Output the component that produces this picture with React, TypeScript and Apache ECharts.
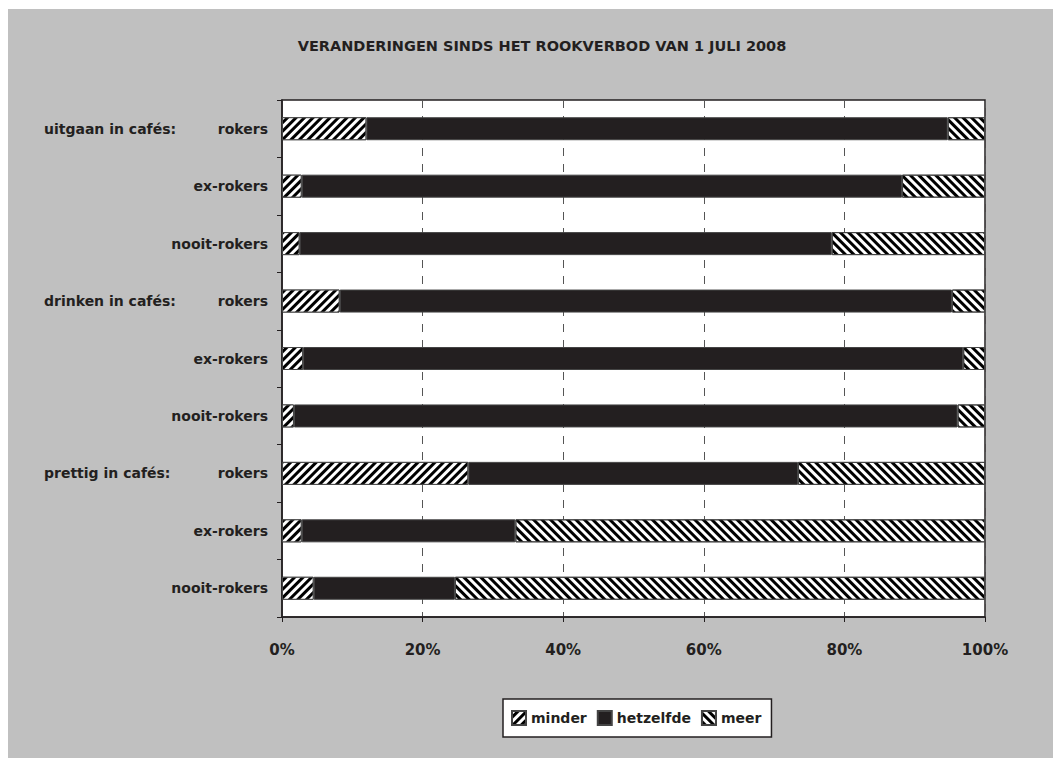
import React, { useEffect, useRef } from "react";
import * as echarts from "echarts";

const categories = [
  "uitgaan in cafés:|rokers",
  "|ex-rokers",
  "|nooit-rokers",
  "drinken in cafés:|rokers",
  "|ex-rokers",
  "|nooit-rokers",
  "prettig in cafés:|rokers",
  "|ex-rokers",
  "|nooit-rokers",
];
const minder = [12.0, 2.8, 2.5, 8.2, 3.0, 1.7, 26.5, 2.8, 4.5];
const hetzelfde = [82.7, 85.4, 75.7, 87.1, 93.9, 94.4, 46.9, 30.4, 20.1];
const meer = [5.3, 11.8, 21.8, 4.7, 3.1, 3.9, 26.6, 66.8, 75.4];
const xTicks = [0, 20, 40, 60, 80, 100];

const FONT = "'DejaVu Sans', sans-serif";
const INK = "#231f20";

export default function App() {
  const ref = useRef<HTMLDivElement>(null);
  useEffect(() => {
    const chart = echarts.init(ref.current!, undefined, { renderer: "svg" });
    const stripe = (color: string, rot: number) => ({
      symbol: "rect",
      symbolSize: 1,
      color,
      dashArrayX: [1, 0],
      dashArrayY: [3, 3],
      rotation: rot,
    });
    const lbl = { fontFamily: FONT, fontSize: 14, fontWeight: "bold", color: INK };
    chart.setOption({
      animation: false,
      backgroundColor: "#c0c0c0",
      title: {
        text: "VERANDERINGEN SINDS HET ROOKVERBOD VAN 1 JULI 2008",
        left: 529,
        top: 24,
        textAlign: "center",
        textStyle: { fontFamily: FONT, fontSize: 14.5, fontWeight: "bold", color: INK },
      },
      grid: {
        left: 274,
        top: 91,
        right: 68,
        bottom: 141,
        show: true,
        backgroundColor: "#fff",
        borderColor: INK,
        borderWidth: 1.5,
      },
      legend: {
        left: 495,
        top: 690,
        padding: [11, 10, 11, 8],
        backgroundColor: "#fff",
        borderColor: INK,
        borderWidth: 1.5,
        icon: "rect",
        itemWidth: 14,
        itemHeight: 14,
        itemGap: 10,
        textStyle: { ...lbl, fontSize: 14, padding: [0, 0, 0, 0] },
        data: ["minder", "hetzelfde", "meer"],
      },
      xAxis: {
        type: "value",
        min: 0,
        max: 100,
        interval: 20,
        axisLine: { show: true, lineStyle: { color: INK, width: 1.5 } },
        axisTick: { show: true, length: 5, lineStyle: { color: INK } },
        splitLine: { show: true, lineStyle: { color: "#555", type: [8, 8], width: 1 } },
        axisLabel: {
          margin: 25,
          formatter: (v: number) => (xTicks.includes(v) ? v + "%" : ""),
          ...lbl,
          fontSize: 15,
        },
      },
      yAxis: {
        type: "category",
        inverse: true,
        data: categories,
        axisLine: { show: true, lineStyle: { color: INK, width: 1.5 } },
        axisTick: { show: true, length: 5, inside: false, lineStyle: { color: INK } },
        axisLabel: {
          margin: 14,
          formatter: (v: string) => {
            const [g, s] = v.split("|");
            return g ? `{g|${g}}{s|${s}}` : `{t|${s}}`;
          },
          rich: {
            g: { ...lbl, width: 166, align: "left" },
            s: { ...lbl, width: 58, align: "right" },
            t: { ...lbl },
          },
        },
      },
      series: [
        {
          name: "minder",
          type: "bar",
          stack: "t",
          data: minder,
          barWidth: 23,
          itemStyle: { color: "#000", borderColor: "#444", borderWidth: 1, decal: stripe("#fff", -Math.PI / 4) },
        },
        {
          name: "hetzelfde",
          type: "bar",
          stack: "t",
          data: hetzelfde,
          barWidth: 23,
          itemStyle: { color: INK, borderColor: "#444", borderWidth: 1 },
        },
        {
          name: "meer",
          type: "bar",
          stack: "t",
          data: meer,
          barWidth: 23,
          itemStyle: { color: "#fff", borderColor: "#444", borderWidth: 1, decal: stripe("#000", Math.PI / 4) },
        },
      ],
    });
    return () => chart.dispose();
  }, []);
  return (
    <div
      ref={ref}
      style={{ position: "fixed", left: 8, top: 9, width: 1045, height: 749 }}
    />
  );
}
